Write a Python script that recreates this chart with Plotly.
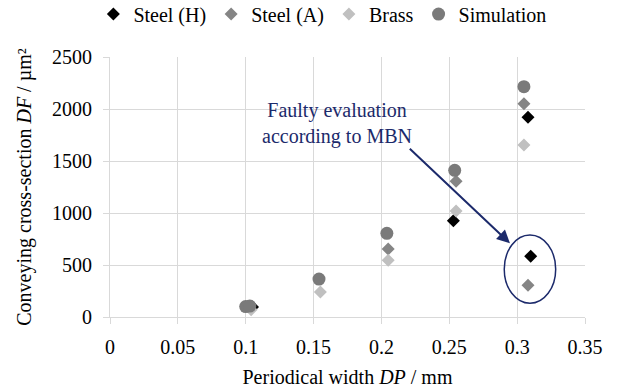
import plotly.graph_objects as go

# Data
steel_h_x = [0.105, 0.253, 0.308, 0.310]
steel_h_y = [95, 925, 1920, 585]

steel_a_x = [0.205, 0.255, 0.305, 0.308]
steel_a_y = [655, 1305, 2050, 305]

brass_x = [0.104, 0.155, 0.205, 0.255, 0.305]
brass_y = [70, 240, 545, 1020, 1655]

sim_x = [0.100, 0.103, 0.154, 0.204, 0.254, 0.305]
sim_y = [100, 105, 365, 805, 1410, 2215]

x_ticks = [0, 0.05, 0.1, 0.15, 0.2, 0.25, 0.3, 0.35]
x_tick_labels = ["0", "0.05", "0.1", "0.15", "0.2", "0.25", "0.3", "0.35"]
y_ticks = [0, 500, 1000, 1500, 2000, 2500]

FONT = "Liberation Serif"
NAVY = "#1c2a6b"
GRID = "#d9d9d9"

fig = go.Figure()
fig.add_trace(go.Scatter(x=steel_h_x, y=steel_h_y, mode="markers", name="Steel (H)",
                         marker=dict(symbol="diamond", size=10, color="#000000")))
fig.add_trace(go.Scatter(x=steel_a_x, y=steel_a_y, mode="markers", name="Steel (A)",
                         marker=dict(symbol="diamond", size=10, color="#858585")))
fig.add_trace(go.Scatter(x=brass_x, y=brass_y, mode="markers", name="Brass",
                         marker=dict(symbol="diamond", size=10, color="#c0c0c0")))
fig.add_trace(go.Scatter(x=sim_x, y=sim_y, mode="markers", name="Simulation",
                         marker=dict(symbol="circle", size=13, color="#7a7a7a")))

# Annotation text
fig.add_annotation(x=0.167, y=1856, xref="x", yref="y",
                   text="Faulty evaluation<br>according to MBN", showarrow=False,
                   font=dict(family=FONT, size=20, color=NAVY), align="center")
# Arrow
fig.add_annotation(x=0.2947, y=709, ax=0.2198, ay=1632, xref="x", yref="y",
                   axref="x", ayref="y", text="", showarrow=True,
                   arrowhead=2, arrowsize=1.3, arrowwidth=2, arrowcolor=NAVY)
# Ellipse
fig.add_shape(type="circle", xref="x", yref="y", x0=0.2905, x1=0.3284, y0=132, y1=788,
              line=dict(color=NAVY, width=1.5))

fig.update_layout(
    width=637, height=391,
    margin=dict(l=110, r=52, t=57, b=74, autoexpand=False),
    paper_bgcolor="white", plot_bgcolor="white",
    font=dict(family=FONT, size=20, color="#000000"),
    showlegend=True,
    legend=dict(orientation="h", x=-0.035, xanchor="left", y=1.165, yanchor="middle",
                font=dict(family=FONT, size=20, color="#000000")),
)
fig.update_xaxes(range=[0, 0.35], tickvals=x_ticks, ticktext=x_tick_labels,
                 tickfont=dict(family=FONT, size=20, color="#000000"),
                 showgrid=True, gridcolor=GRID, gridwidth=1,
                 showline=True, linecolor=GRID, linewidth=1, zeroline=False,
                 ticks="outside", ticklen=6, tickcolor=GRID,
                 ticklabelstandoff=6,
                 title=dict(text="Periodical width <i>DP</i> / mm", standoff=12,
                            font=dict(family=FONT, size=20, color="#000000")))
fig.update_yaxes(range=[0, 2500], tickvals=y_ticks,
                 tickfont=dict(family=FONT, size=20, color="#000000"),
                 showgrid=True, gridcolor=GRID, gridwidth=1,
                 showline=True, linecolor=GRID, linewidth=1, zeroline=False,
                 ticks="outside", ticklen=6, tickcolor=GRID,
                 ticklabelstandoff=7,
                 title=dict(text="Conveying cross-section <i>DF</i> / µm²", standoff=15,
                            font=dict(family=FONT, size=20, color="#000000")))

fig.write_html("out.html")
